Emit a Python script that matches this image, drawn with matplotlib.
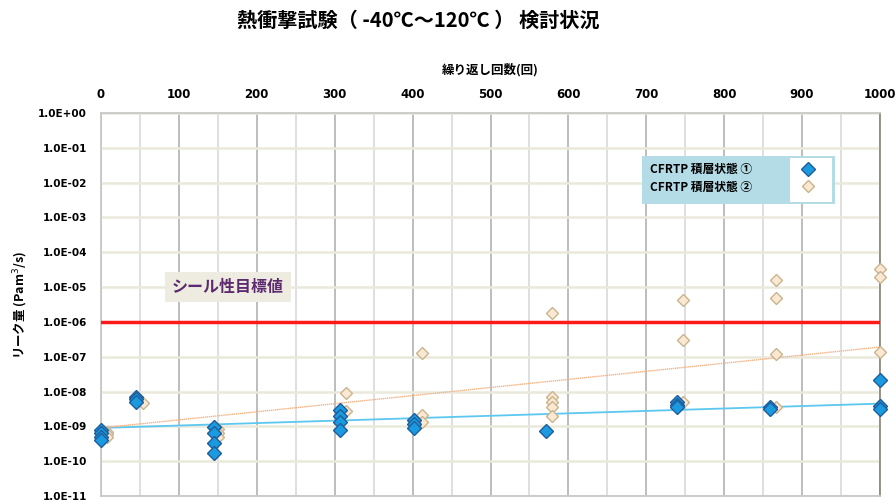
import numpy as np
import matplotlib
matplotlib.use("Agg")
import matplotlib.pyplot as plt
from matplotlib.patches import Rectangle
from matplotlib.ticker import FixedLocator, FuncFormatter

plt.rcParams['font.family'] = ['Noto Sans CJK JP', 'DejaVu Sans']

# data
blue_x = [0, 0, 0, 0, 45, 45, 45, 145, 145, 145, 145, 307, 307, 307, 307,
          402, 402, 402, 571, 739, 739, 739, 859, 859, 1000, 1000, 1000]
blue_y = [8e-10, 6.5e-10, 5e-10, 4e-10, 7e-9, 6e-9, 5e-9,
          9.5e-10, 6.3e-10, 3.3e-10, 1.7e-10, 3e-9, 2e-9, 1.3e-9, 8e-10,
          1.5e-9, 1.2e-9, 9e-10, 7.5e-10, 5e-9, 4e-9, 3.5e-9,
          3.5e-9, 3.1e-9, 2.1e-8, 3.8e-9, 3.2e-9]

orange_x = [8, 8, 8, 54, 150, 150, 150, 315, 315, 412, 412, 412,
            579, 579, 579, 579, 579, 747, 747, 747, 867, 867, 867, 867,
            1000, 1000, 1000, 1000, 1000]
orange_y = [7e-10, 6e-10, 5e-10, 4.7e-9, 8.5e-10, 6.5e-10, 5e-10,
            9e-9, 2.8e-9, 1.3e-7, 2.1e-9, 1.3e-9,
            1.8e-6, 7e-9, 5e-9, 3.5e-9, 2e-9, 4.3e-6, 3e-7, 5e-9,
            1.6e-5, 5e-6, 1.2e-7, 3.5e-9, 3.4e-5, 2e-5, 1.4e-7, 4e-9, 3.5e-9]

trend_x = [0, 1000]
trend_blue = [9e-10, 4.5e-9]
trend_orange = [9e-10, 1.9e-7]

target = 1e-6
series_names = ['CFRTP 積層状態 ①', 'CFRTP 積層状態 ②']
x_ticks = [0, 100, 200, 300, 400, 500, 600, 700, 800, 900, 1000]
y_exps = list(range(0, -12, -1))

fig = plt.figure(figsize=(8.96, 5.04), dpi=100)
ax = fig.add_axes([101 / 896, 1 - 496 / 504, 779 / 896, 383 / 504])

ax.set_yscale('log')
ax.set_ylim(1e-11, 1)
ax.set_xlim(0, 1000)

# grid
ax.xaxis.set_major_locator(FixedLocator(x_ticks))
ax.xaxis.set_minor_locator(FixedLocator(np.arange(50, 1000, 100)))
ax.yaxis.set_major_locator(FixedLocator([10.0 ** e for e in y_exps]))
ax.yaxis.set_minor_locator(FixedLocator([]))
ax.grid(True, which='major', axis='x', color='#b8b8b8', lw=1.3)
ax.grid(True, which='minor', axis='x', color='#dcdcdc', lw=1.3)
ax.grid(True, which='major', axis='y', color='#ebe9dc', lw=1.8)
ax.set_axisbelow(True)

ax.xaxis.tick_top()
ax.xaxis.set_label_position('top')
ax.tick_params(axis='both', which='both', length=0)
ax.tick_params(axis='x', pad=9, labelsize=8.5)
ax.tick_params(axis='y', pad=10, labelsize=7.5)
ax.yaxis.set_major_formatter(FuncFormatter(lambda v, p: '1.0E%+03d' % int(round(np.log10(v)))))
for lab in ax.get_xticklabels() + ax.get_yticklabels():
    lab.set_fontweight('bold')
    lab.set_family('DejaVu Sans')

for side in ['top', 'left', 'bottom']:
    ax.spines[side].set_color('#c8c8c8')
    ax.spines[side].set_linewidth(1.3)
ax.spines['right'].set_color('#8c8c80')
ax.spines['right'].set_linewidth(1.3)

# target line and trend lines
ax.axhline(target, color='#ff1a1a', lw=2.5, zorder=3)
ax.plot(trend_x, trend_blue, color='#5cc8f0', lw=1.3, zorder=3)
ax.plot(trend_x, trend_orange, color='#f4b183', lw=1.0, ls=(0, (1, 0.5)), zorder=3)

ax.plot(orange_x, orange_y, 'D', ms=6.5, mfc='#fbe8d3', mec='#c9b48e', mew=1.0,
        ls='none', zorder=4, label=series_names[1], clip_on=False)
ax.plot(blue_x, blue_y, 'D', ms=7, mfc='#1a9be0', mec='#1f5c9c', mew=1.0,
        ls='none', zorder=5, label=series_names[0], clip_on=False)

ax.text(163, 1e-5, 'シール性目標値', ha='center', va='center', fontsize=11.5,
        fontweight='bold', color='#5d2a70',
        bbox=dict(boxstyle='square,pad=0.45', fc='#eeece1', ec='none'), zorder=6)

# legend
ax.add_patch(Rectangle((0.694, 0.762), 0.248, 0.125, transform=ax.transAxes,
                       fc='#b4dce6', ec='none', zorder=6))
ax.add_patch(Rectangle((0.884, 0.767), 0.054, 0.115, transform=ax.transAxes,
                       fc='white', ec='none', zorder=6))
h, l = ax.get_legend_handles_labels()
leg = ax.legend(h[::-1], l[::-1], loc='upper left', bbox_to_anchor=(0.692, 0.893),
                frameon=False, markerfirst=False, handletextpad=4.3,
                handlelength=1.0, labelspacing=0.35, borderpad=0.3,
                prop={'weight': 'bold', 'size': 8.5})
leg.set_zorder(7)

ax.set_xlabel('繰り返し回数(回)', fontsize=9, fontweight='bold', labelpad=10)
ax.set_ylabel('リーク量 (Pam$^3$/s)', fontsize=9, fontweight='bold', labelpad=6)
fig.text(418 / 896, 1 - 20 / 504, '熱衝撃試験（ -40℃～120℃ ） 検討状況', ha='center',
         va='center', fontsize=14.5, fontweight='bold')

fig.savefig('out.png', dpi=100)
